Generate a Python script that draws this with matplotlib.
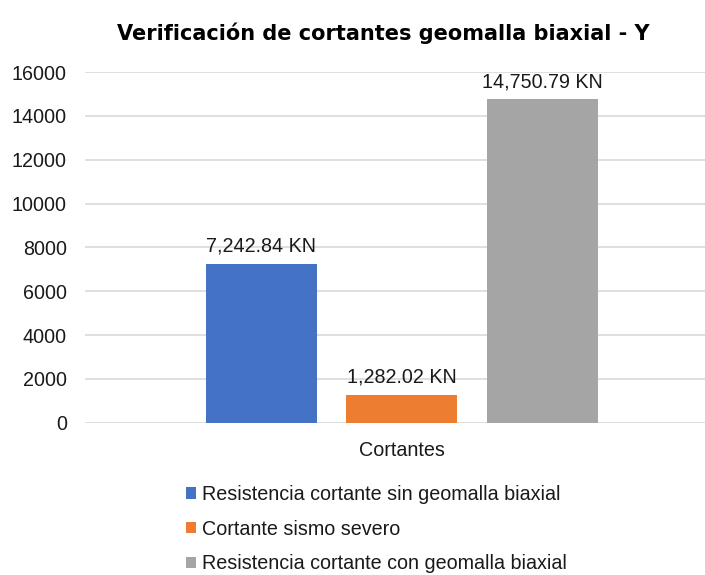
import matplotlib
matplotlib.use('Agg')
import matplotlib.pyplot as plt

plt.rcParams['font.family'] = ['Liberation Sans', 'DejaVu Sans']

# datos
category = 'Cortantes'
series = ['Resistencia cortante sin geomalla biaxial',
          'Cortante sismo severo',
          'Resistencia cortante con geomalla biaxial']
values = [7242.84, 1282.02, 14750.79]
colors = ['#4472C4', '#ED7D31', '#A5A5A5']
yticks = [0, 2000, 4000, 6000, 8000, 10000, 12000, 14000, 16000]

fs = 14.2
fig = plt.figure(figsize=(7.05, 5.75), dpi=100)
ax = fig.add_axes([85/705, 1-422.7/575, 620/705, (422.7-72)/575])

pos = [-1, 0, 1]
bars = ax.bar(pos, values, width=0.79, color=colors, label=series, zorder=3)
for b, v in zip(bars, values):
    ax.text(b.get_x() + b.get_width()/2, v + 380, '{:,.2f} KN'.format(v),
            ha='center', va='bottom', fontsize=fs, color='#1a1a1a')

ax.set_xlim(-2.256, 2.157)
ax.set_ylim(0, 16000)
ax.set_yticks(yticks)
ax.set_yticklabels([str(t) for t in yticks], fontsize=fs, color='#1a1a1a')
ax.set_xticks([0])
ax.set_xticklabels([category], fontsize=fs, color='#1a1a1a')
ax.tick_params(axis='y', length=0, pad=13)
ax.tick_params(axis='x', length=0, pad=13)
ax.grid(axis='y', color='#d9d9d9', linewidth=1.2, zorder=0)
for s in ax.spines.values():
    s.set_visible(False)

fig.text(383/705, 1-33/575, 'Verificación de cortantes geomalla biaxial - Y',
         ha='center', va='center', fontsize=15, fontweight='heavy',
         family=['DejaVu Sans'])

leg = fig.legend(handles=bars, labels=series, loc='upper left',
                 bbox_to_anchor=(178/705, 1-477/575), frameon=False,
                 fontsize=fs, handlelength=0.5, handleheight=0.5,
                 handletextpad=0.3, labelspacing=0.8, borderaxespad=0)
for t in leg.get_texts():
    t.set_color('#1a1a1a')

fig.savefig('out.png', dpi=100)
